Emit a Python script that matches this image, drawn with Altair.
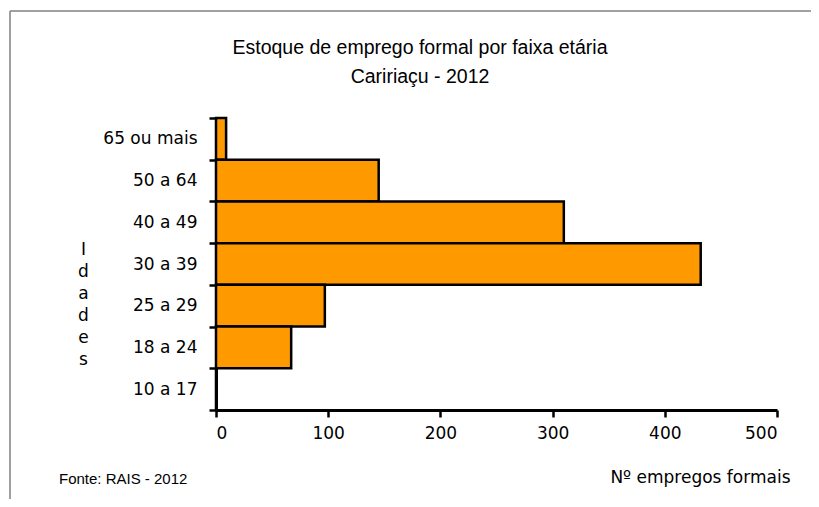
import altair as alt
import pandas as pd

# ---- data ----
faixas = ["65 ou mais", "50 a 64", "40 a 49", "30 a 39", "25 a 29", "18 a 24", "10 a 17"]
empregos = [9, 145, 310, 432, 97, 67, 0]
x_ticks = [0, 100, 200, 300, 400, 500]
titulo_1 = ["Estoque de emprego formal por faixa etária"]
titulo_2 = ["Caririaçu - 2012"]
fonte = ["Fonte: RAIS - 2012"]
x_titulo = "Nº empregos formais"
y_titulo = list("Idades")

df = pd.DataFrame({"faixa": faixas, "n": empregos})
one = pd.DataFrame({"t": fonte})
t1 = pd.DataFrame({"t": titulo_1})
t2 = pd.DataFrame({"t": titulo_2})

W, H = 561, 292
LAB = "DejaVu Sans"
FS = 17

bars = alt.Chart(df).mark_bar(
    color="#FF9900", stroke="black", strokeWidth=2.5
).encode(
    x=alt.X(
        "n:Q",
        scale=alt.Scale(domain=[0, 500], nice=False),
        axis=alt.Axis(
            values=x_ticks, grid=False, title=x_titulo,
            domainColor="black", domainWidth=3,
            tickColor="black", tickWidth=2.5, tickSize=7,
            labelFont=LAB, labelFontSize=FS, labelColor="black", labelPadding=8,
            titleFont=LAB, titleFontSize=FS, titleFontWeight="normal", titleColor="black",
            titleX=574, titleY=72, titleAlign="right", titleBaseline="alphabetic",
        ),
    ),
    y=alt.Y(
        "faixa:N",
        sort=faixas,
        scale=alt.Scale(paddingInner=0, paddingOuter=0),
        axis=alt.Axis(
            title=y_titulo, grid=False, tickBand="extent",
            domainColor="black", domainWidth=3,
            tickColor="black", tickWidth=2.5, tickSize=7,
            labelFont=LAB, labelFontSize=FS, labelColor="black", labelPadding=12,
            titleFont=LAB, titleFontSize=FS, titleFontWeight="normal", titleColor="black",
            titleAngle=0, titleX=-133, titleY=131, titleAlign="center",
            titleBaseline="middle", titleLineHeight=22,
        ),
    ),
)

top_line = alt.Chart(one).mark_rule(color="#808080", strokeWidth=1.5).encode(
    x=alt.value(-206), x2=alt.value(603), y=alt.value(-107)
)
left_line = alt.Chart(one).mark_rule(color="#808080", strokeWidth=1.5).encode(
    x=alt.value(-206), y=alt.value(-107), y2=alt.value(389)
)
fonte_txt = alt.Chart(one).mark_text(
    font="Liberation Sans", fontSize=15, align="left", baseline="alphabetic", color="black"
).encode(text="t:N", x=alt.value(-157), y=alt.value(366))

title_1 = alt.Chart(t1).mark_text(
    font="Liberation Sans", fontSize=19.5, align="center", baseline="alphabetic", color="black"
).encode(text="t:N", x=alt.value(204), y=alt.value(-64))
title_2 = alt.Chart(t2).mark_text(
    font="Liberation Sans", fontSize=19.5, align="center", baseline="alphabetic", color="black"
).encode(text="t:N", x=alt.value(204), y=alt.value(-35))

chart = alt.layer(top_line, left_line, bars, fonte_txt, title_1, title_2).properties(
    width=W,
    height=H,
    background="white",
    autosize=alt.AutoSizeParams(type="none"),
    padding={"left": 208, "top": 110, "right": 34, "bottom": 89},
).configure_view(strokeWidth=0, stroke="transparent")

chart.save("out.html", embed_options={"renderer": "svg", "actions": False})
